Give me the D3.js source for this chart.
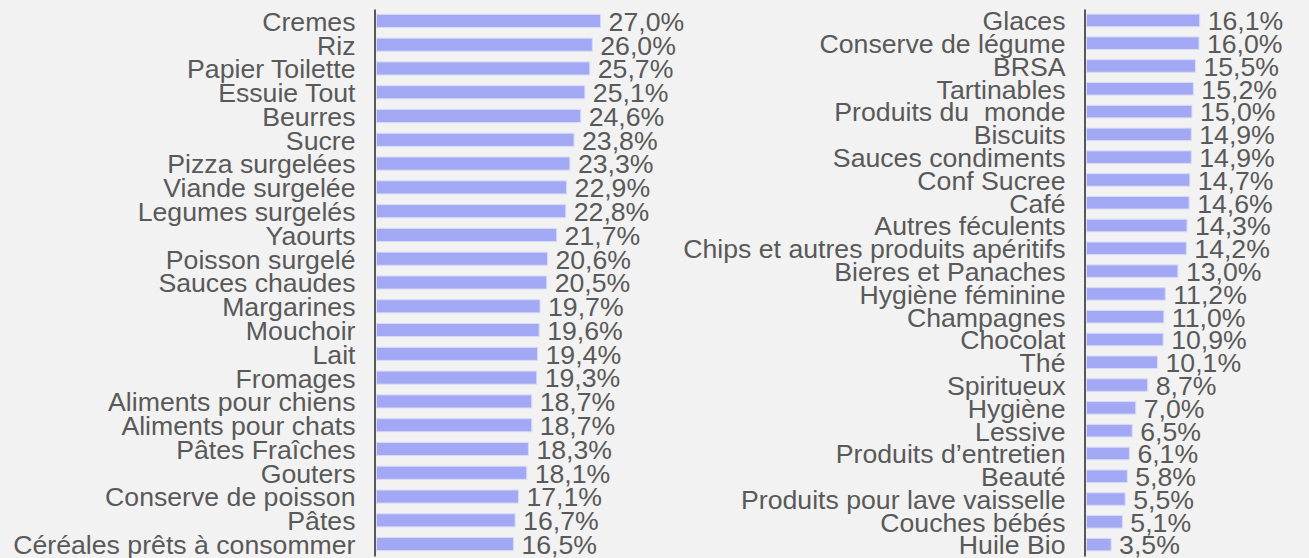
<!DOCTYPE html>
<html>
<head>
<meta charset="utf-8">
<script src="https://cdn.jsdelivr.net/npm/d3@7"></script>
<style>
  html, body { margin: 0; padding: 0; background: #f2f2f2; }
  svg { display: block; }
  .lbl { font-family: "Liberation Sans", Arial, sans-serif; font-size: 26.67px; fill: #595959; white-space: pre; }
</style>
</head>
<body>
<svg id="chart" width="1309" height="558"></svg>
<script>
// left panel
var leftCats = ["Cremes", "Riz", "Papier Toilette", "Essuie Tout", "Beurres", "Sucre",
  "Pizza surgelées", "Viande surgelée", "Legumes surgelés", "Yaourts", "Poisson surgelé",
  "Sauces chaudes", "Margarines", "Mouchoir", "Lait", "Fromages", "Aliments pour chiens",
  "Aliments pour chats", "Pâtes Fraîches", "Gouters", "Conserve de poisson", "Pâtes",
  "Céréales prêts à consommer"];
var leftVals = [27.0, 26.0, 25.7, 25.1, 24.6, 23.8, 23.3, 22.9, 22.8, 21.7, 20.6, 20.5,
  19.7, 19.6, 19.4, 19.3, 18.7, 18.7, 18.3, 18.1, 17.1, 16.7, 16.5];

// right panel
var rightCats = ["Glaces", "Conserve de légume", "BRSA", "Tartinables", "Produits du  monde",
  "Biscuits", "Sauces condiments", "Conf Sucree", "Café", "Autres féculents",
  "Chips et autres produits apéritifs", "Bieres et Panaches", "Hygiène féminine",
  "Champagnes", "Chocolat", "Thé", "Spiritueux", "Hygiène", "Lessive",
  "Produits d’entretien", "Beauté", "Produits pour lave vaisselle", "Couches bébés", "Huile Bio"];
var rightVals = [16.1, 16.0, 15.5, 15.2, 15.0, 14.9, 14.9, 14.7, 14.6, 14.3, 14.2, 13.0,
  11.2, 11.0, 10.9, 10.1, 8.7, 7.0, 6.5, 6.1, 5.8, 5.5, 5.1, 3.5];

var fr = d3.formatLocale({decimal: ",", thousands: " ", grouping: [3], currency: ["", "€"]});
var pct = function(v) { return fr.format(".1f")(v) + "%"; };

var svg = d3.select("#chart");

function drawPanel(cats, vals, axisX, xMax, pxWidth) {
    var data = cats.map(function(c, i) { return {name: c, value: vals[i]}; });

    var y = d3.scaleBand()
        .domain(cats)
        .range([9, 556])
        .paddingInner(0.45)
        .paddingOuter(0.225);

    var x = d3.scaleLinear()
        .domain([0, xMax])
        .range([axisX + 1.5, axisX + 1.5 + pxWidth]);

    var g = svg.append("g");

    g.selectAll("rect")
        .data(data)
        .enter().append("rect")
        .attr("x", x(0))
        .attr("y", function(d) { return y(d.name); })
        .attr("width", function(d) { return x(d.value) - x(0); })
        .attr("height", y.bandwidth())
        .attr("fill", "#a3a8f4")
        .attr("stroke", "#d8dbf8")
        .attr("stroke-width", 1);

    g.selectAll(".val")
        .data(data)
        .enter().append("text")
        .attr("class", "lbl val")
        .attr("x", function(d) { return x(d.value) + 8; })
        .attr("y", function(d) { return y(d.name) + y.bandwidth() / 2; })
        .attr("dy", "0.37em")
        .text(function(d) { return pct(d.value); });

    // category axis: line + labels
    var ax = g.append("g")
        .attr("transform", "translate(" + (axisX - 0.5) + ",0)")
        .call(d3.axisLeft(y).tickSize(0).tickPadding(19));

    ax.select(".domain").attr("stroke", "#595959").attr("stroke-width", 2);
    ax.selectAll("text")
        .attr("class", "lbl")
        .attr("dy", "0.37em")
        .attr("font-family", null)
        .attr("font-size", null);
    ax.attr("font-family", null).attr("font-size", null);
}

drawPanel(leftCats, leftVals, 375, 30, 249);
drawPanel(rightCats, rightVals, 1085, 20, 140.6);
</script>
</body>
</html>
